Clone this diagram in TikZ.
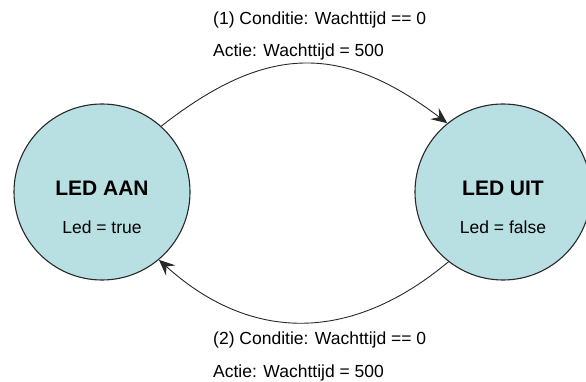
\documentclass[tikz,border=0pt]{standalone}
\usepackage{fontspec}
\setmainfont{Liberation Sans}
\usetikzlibrary{arrows.meta}
\definecolor{statefill}{RGB}{184,224,227}
\definecolor{edgegray}{RGB}{40,40,40}
\tikzset{
  state/.style={circle, draw=edgegray, line width=1.1pt, fill=statefill, minimum size=176pt, inner sep=0pt},
  trans/.style={draw=edgegray, line width=0.9pt, -{Stealth[length=16pt,width=14pt,inset=6pt]}},
  lbl/.style={font=\fontsize{17.5}{20}\selectfont, anchor=west, inner sep=0pt},
  title/.style={font=\fontsize{21}{24}\selectfont\bfseries, inner sep=0pt},
  sub/.style={font=\fontsize{17.5}{20}\selectfont, inner sep=0pt}
}
\begin{document}
\begin{tikzpicture}[x=1pt,y=1pt]
\useasboundingbox (0,0) rectangle (586,382);
\clip (0,0) rectangle (586,382);
\node[state] (a) at (102,190) {};
\node[state] (b) at (503,190) {};
\node[title] (at) at (102,194) {LED AAN};
\node[sub] (as) at (102,155) {Led = true};
\node[title] (bt) at (503,194) {LED UIT};
\node[sub] (bs) at (503,155) {Led = false};
\node[lbl] (l1) at (213,362) {(1) Conditie: Wachttijd == 0};
\node[lbl] (l2) at (213,330) {Actie: Wachttijd = 500};
\node[lbl] (l3) at (213,42) {(2) Conditie: Wachttijd == 0};
\node[lbl] (l4) at (213,9) {Actie: Wachttijd = 500};
\draw[trans] (a.48) .. controls (265,337) and (340,340) .. (b.129);
\draw[trans] (b.232) .. controls (350,38) and (250,40) .. (a.310);
\end{tikzpicture}
\end{document}
